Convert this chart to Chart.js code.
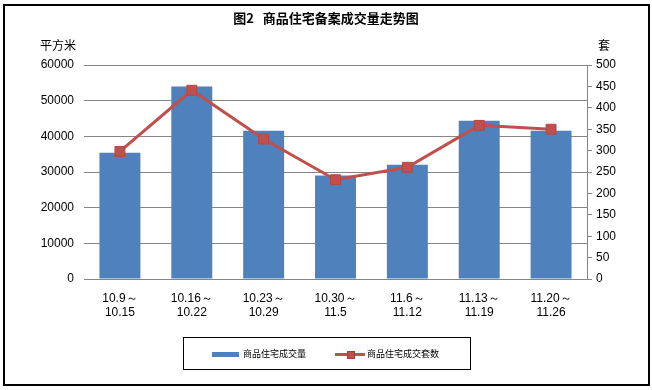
<!DOCTYPE html>
<html lang="zh">
<head>
  <meta charset="UTF-8" />
  <script src="https://cdn.jsdelivr.net/npm/chart.js"></script>
  <style>
    body { margin: 0; background: #fff; }
    .wrap { position: relative; width: 652px; height: 390px; font-family: 'Liberation Sans', 'Noto Sans CJK SC', sans-serif; }
    .frame { position: absolute; left: 3px; top: 4px; width: 643px; height: 378px; border: 2px solid #000; pointer-events: none; }
    .title { position: absolute; left: 0; width: 652px; top: 8px; text-align: center; font-family: 'Noto Sans CJK SC', sans-serif; font-size: 13px; font-weight: bold; white-space: pre; }
    .unit { position: absolute; top: 36px; font-size: 12px; color: #000; font-family: 'Noto Sans CJK SC', sans-serif; }
    .legend { position: absolute; left: 183px; top: 337px; width: 286px; height: 31px; border: 1.5px solid #000; font-family: 'Noto Sans CJK SC', sans-serif; font-size: 9px; }
    .legend span { position: absolute; top: 9px; }
    .sw { position: absolute; }
  </style>
  <title>商品住宅备案成交量走势图</title>
</head>
<body>
  <div class="wrap">
    <canvas id="chart" width="652" height="390"></canvas>
    <div class="frame"></div>
    <div class="title">图2   商品住宅备案成交量走势图</div>
    <div class="unit" style="left:40px">平方米</div>
    <div class="unit" style="left:598px">套</div>
    <div class="legend">
      <div class="sw" style="left:28px; top:14px; width:27px; height:5px; background:#4F81BD"></div>
      <span style="left:59px">商品住宅成交量</span>
      <div class="sw" style="left:151px; top:15px; width:30px; height:3px; background:#C0504D"></div>
      <div class="sw" style="left:163px; top:13px; width:6px; height:6px; background:#C0504D; border:0.5px solid #a0403d"></div>
      <span style="left:183px">商品住宅成交套数</span>
    </div>
  </div>

<script>
  // 周期
  var labels = [
    ['10.9～', '10.15'],
    ['10.16～', '10.22'],
    ['10.23～', '10.29'],
    ['10.30～', '11.5'],
    ['11.6～', '11.12'],
    ['11.13～', '11.19'],
    ['11.20～', '11.26']
  ]
  // 成交面积(平方米)
  var area = [35400, 54000, 41600, 29000, 32000, 44400, 41600]
  // 成交套数(套)
  var units = [298, 441, 327, 232, 261, 359, 350]

  var tickFont = { family: 'Liberation Sans', size: 12 }
  var grey = '#868686'

  new Chart(document.getElementById('chart'), {
    data: {
      labels: labels,
      datasets: [{
        type: 'line',
        label: '商品住宅成交套数',
        data: units,
        yAxisID: 'y1',
        borderColor: '#C0504D',
        backgroundColor: '#C0504D',
        borderWidth: 3,
        pointStyle: 'rect',
        pointRadius: 7,
        pointBorderColor: '#B54643',
        pointBorderWidth: 1,
        order: 0
      }, {
        type: 'bar',
        label: '商品住宅成交量',
        data: area,
        yAxisID: 'y',
        backgroundColor: '#4F81BD',
        categoryPercentage: 1,
        barPercentage: 0.57,
        order: 1
      }]
    },
    options: {
      responsive: false,
      animation: false,
      layout: { padding: { top: 65, bottom: 71, left: 0, right: 0 } },
      plugins: {
        legend: { display: false },
        tooltip: { enabled: false },
        title: { display: false }
      },
      scales: {
        x: {
          grid: { display: false },
          border: { display: true, color: grey },
          ticks: { color: '#000', font: tickFont, maxRotation: 0, autoSkip: false, padding: 4 },
          afterFit: function (s) { s.height = 40 }
        },
        y: {
          position: 'left',
          min: 0,
          max: 60000,
          ticks: { stepSize: 10000, color: '#000', font: tickFont, padding: 10, callback: function (v) { return String(v) } },
          grid: { color: grey, lineWidth: 1, drawTicks: false },
          border: { display: false },
          afterFit: function (s) { s.width = 84 }
        },
        y1: {
          position: 'right',
          min: 0,
          max: 500,
          ticks: { stepSize: 50, color: '#000', font: tickFont, padding: 4 },
          grid: { drawOnChartArea: false, color: grey, tickLength: 5 },
          border: { display: true, color: grey },
          afterFit: function (s) { s.width = 65 }
        }
      }
    }
  })
</script>
</body>
</html>
